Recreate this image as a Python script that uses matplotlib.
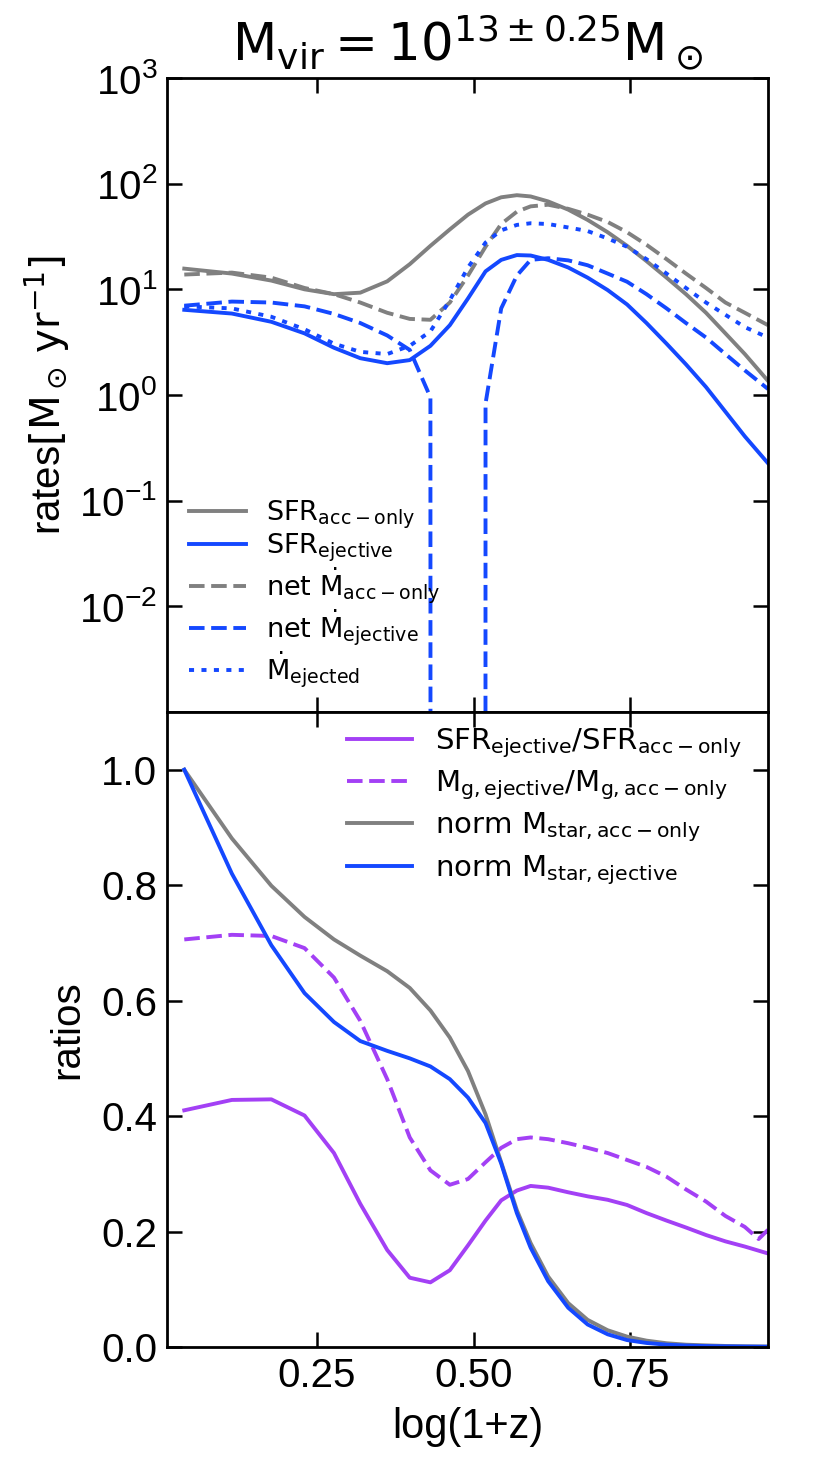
import numpy as np
import matplotlib
matplotlib.use("Agg")
import matplotlib.pyplot as plt
from matplotlib.ticker import NullLocator, FixedLocator, FormatStrFormatter

plt.rcParams['font.family'] = ['Liberation Sans', 'DejaVu Sans']
plt.rcParams['mathtext.fontset'] = 'dejavusans'
plt.rcParams['lines.dashed_pattern'] = [4.0, 1.7]
plt.rcParams['lines.dotted_pattern'] = [1.3, 1.9]

# ---------------- data ----------------
logz1 = [0.038, 0.114, 0.177, 0.230, 0.277, 0.319, 0.362, 0.398, 0.431, 0.462,
         0.491, 0.519, 0.544, 0.569, 0.591, 0.619, 0.651, 0.682, 0.714, 0.745,
         0.776, 0.808, 0.839, 0.871, 0.902, 0.933, 0.970]

sfr_acc = [15.7, 14.1, 12.1, 10.0, 9.0, 9.3, 11.9, 17.3, 25.8, 36.9,
           50.9, 65.0, 74.3, 77.8, 75.7, 67.9, 56.8, 45.4, 34.7, 25.8,
           18.5, 12.9, 9.0, 6.0, 3.83, 2.44, 1.36]
sfr_ej = [6.4, 5.9, 4.93, 3.83, 2.80, 2.23, 2.00, 2.14, 2.92, 4.58,
          8.2, 14.8, 19.0, 21.1, 20.9, 19.0, 16.1, 12.9, 9.84, 7.19,
          4.80, 3.06, 1.95, 1.19, 0.695, 0.406, 0.226]
net_acc = [13.8, 14.4, 12.9, 10.3, 9.0, 7.5, 6.0, 5.25, 5.15, 7.5,
           13.5, 25.3, 41.5, 54.3, 61.0, 63.2, 57.8, 50.9, 43.4, 34.7,
           26.4, 19.3, 14.1, 10.3, 7.5, 6.0, 4.58]
net_ej = [7.0, 7.66, 7.5, 6.9, 5.85, 4.8, 3.66, 2.67, 0.95, -3.0,
          -2.0, 0.83, 6.6, 13.5, 19.0, 19.7, 18.8, 16.9, 14.1, 11.8,
          9.0, 6.6, 4.8, 3.5, 2.44, 1.71, 1.14]
mdot_ejected = [6.9, 6.6, 5.5, 4.19, 3.06, 2.56, 2.44, 2.92, 4.0, 7.9,
                16.1, 27.7, 36.2, 40.7, 42.2, 41.5, 38.5, 35.6, 30.3, 25.3,
                19.3, 14.1, 10.3, 7.5, 5.74, 4.39, 3.5]

sfr_ratio = [0.410, 0.428, 0.429, 0.401, 0.336, 0.248, 0.168, 0.120, 0.112, 0.133,
             0.176, 0.219, 0.254, 0.271, 0.279, 0.276, 0.268, 0.261, 0.255, 0.246,
             0.232, 0.219, 0.207, 0.194, 0.183, 0.174, 0.162]
logz1_mg = [0.038, 0.114, 0.177, 0.230, 0.277, 0.319, 0.362, 0.398, 0.431, 0.462,
            0.491, 0.519, 0.544, 0.569, 0.591, 0.619, 0.651, 0.682, 0.714, 0.745,
            0.776, 0.808, 0.839, 0.871, 0.902, 0.933, 0.955, 0.970]
mg_ratio = [0.706, 0.714, 0.712, 0.691, 0.640, 0.565, 0.464, 0.363, 0.306, 0.281,
            0.291, 0.320, 0.345, 0.360, 0.363, 0.360, 0.353, 0.345, 0.336, 0.324,
            0.312, 0.295, 0.273, 0.252, 0.227, 0.208, 0.187, 0.203]
mstar_acc = [1.0, 0.881, 0.799, 0.745, 0.706, 0.678, 0.651, 0.622, 0.583, 0.536,
             0.478, 0.403, 0.320, 0.237, 0.180, 0.122, 0.076, 0.047, 0.029, 0.018,
             0.011, 0.0065, 0.004, 0.0028, 0.0018, 0.0012, 0.0008]
mstar_ej = [1.0, 0.820, 0.696, 0.613, 0.563, 0.530, 0.513, 0.500, 0.486, 0.464,
            0.432, 0.388, 0.318, 0.232, 0.172, 0.114, 0.068, 0.039, 0.022, 0.012,
            0.007, 0.004, 0.0025, 0.0016, 0.0011, 0.0008, 0.0005]

xticks = [0.25, 0.50, 0.75]
yticks_top = [1e-2, 1e-1, 1e0, 1e1, 1e2, 1e3]
yticks_bot = [0.0, 0.2, 0.4, 0.6, 0.8, 1.0]

GRAY = '#808080'
BLUE = '#1448ff'
PURPLE = '#a340f5'
LW = 2.8

fig = plt.figure(figsize=(8.3, 14.64), dpi=100)
ax1 = fig.add_axes([0.2012, 0.51366, 0.7241, 0.43306])
ax2 = fig.add_axes([0.2012, 0.07992, 0.7241, 0.43374], sharex=ax1)

ax1.set_yscale('log')
ax1.plot(logz1, sfr_acc, color=GRAY, lw=LW, ls='-', label=r'$\rm SFR_{acc-only}$')
ax1.plot(logz1, sfr_ej, color=BLUE, lw=LW, ls='-', label=r'$\rm SFR_{ejective}$')
ax1.plot(logz1, net_acc, color=GRAY, lw=LW, ls='--', label=r'$\rm net\ \dot{M}_{acc-only}$')
ax1.plot(logz1, net_ej, color=BLUE, lw=LW, ls='--', label=r'$\rm net\ \dot{M}_{ejective}$')
ax1.plot(logz1, mdot_ejected, color=BLUE, lw=LW, ls=':', label=r'$\rm \dot{M}_{ejected}$')
ax1.set_ylim(1e-3, 1e3)
ax1.set_xlim(0.0104, 0.970)
ax1.yaxis.set_major_locator(FixedLocator(yticks_top))
ax1.yaxis.set_minor_locator(NullLocator())
ax1.set_ylabel(r'rates$[\rm M_\odot\,yr^{-1}]$', fontsize=29, labelpad=5)
ax1.set_title(r'$\rm M_{vir} = 10^{13\pm0.25}M_\odot$', fontsize=37, pad=12)
ax1.legend(loc='lower left', frameon=False, fontsize=19.5, handlelength=2.1,
           handletextpad=0.75, labelspacing=0.05, borderaxespad=0.4)
plt.setp(ax1.get_xticklabels(), visible=False)

ax2.plot(logz1, sfr_ratio, color=PURPLE, lw=LW, ls='-',
         label=r'$\rm SFR_{ejective}/SFR_{acc-only}$')
ax2.plot(logz1_mg, mg_ratio, color=PURPLE, lw=LW, ls='--',
         label=r'$\rm M_{g,ejective}/M_{g,acc-only}$')
ax2.plot(logz1, mstar_acc, color=GRAY, lw=LW, ls='-',
         label=r'$\rm norm\ M_{star,acc-only}$')
ax2.plot(logz1, mstar_ej, color=BLUE, lw=LW, ls='-',
         label=r'$\rm norm\ M_{star,ejective}$')
ax2.set_ylim(0, 1.1)
ax2.yaxis.set_major_locator(FixedLocator(yticks_bot))
ax2.yaxis.set_major_formatter(FormatStrFormatter('%.1f'))
ax2.xaxis.set_major_locator(FixedLocator(xticks))
ax2.xaxis.set_major_formatter(FormatStrFormatter('%.2f'))
ax2.set_ylabel('ratios', fontsize=29, labelpad=11)
ax2.set_xlabel('log(1+z)', fontsize=30, labelpad=9)
ax2.legend(loc='upper right', bbox_to_anchor=(1.0, 1.019), frameon=False,
           fontsize=21, handlelength=2.2, handletextpad=0.8, labelspacing=0.3)

for ax in (ax1, ax2):
    ax.tick_params(which='both', direction='in', top=True, right=True,
                   length=11, width=1.8, labelsize=29, pad=7)
    for s in ax.spines.values():
        s.set_linewidth(2.0)

fig.savefig('out.png', dpi=100)
